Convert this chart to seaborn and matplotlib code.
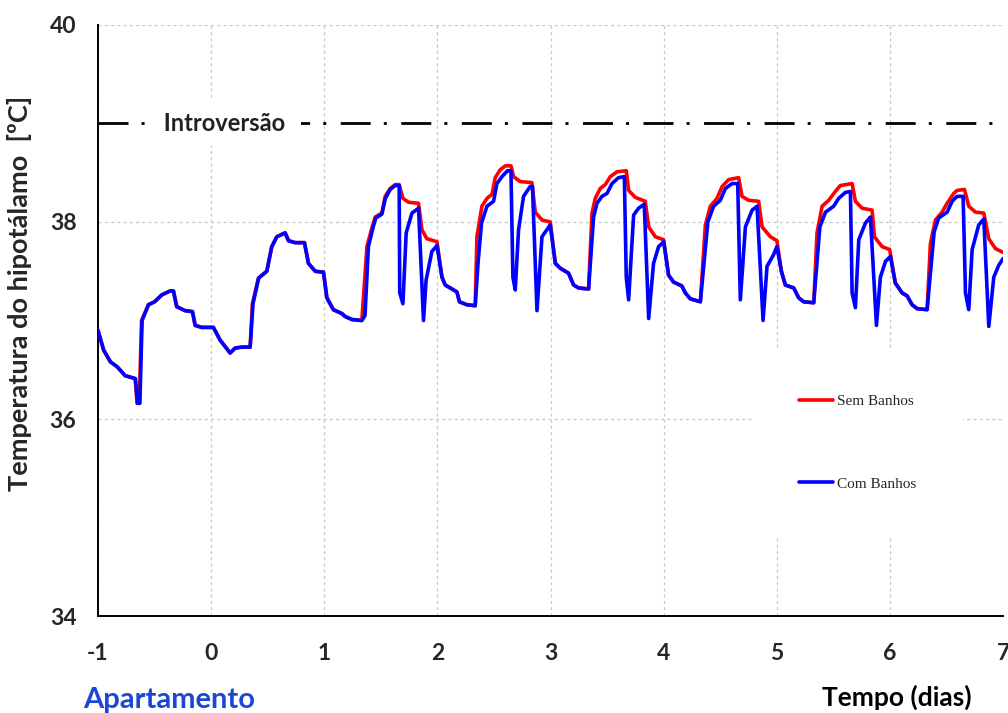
import numpy as np
import pandas as pd
import matplotlib
matplotlib.use("Agg")
import matplotlib.pyplot as plt
import seaborn as sns

# Hypothalamus temperature over time (days), without and with baths
t_sem = [-1.00, -0.95, -0.89, -0.83, -0.76, -0.67, -0.655, -0.635, -0.615, -0.554,
         -0.50, -0.436, -0.362, -0.333, -0.304, -0.23, -0.165, -0.141, -0.082, 0.02,
         0.08, 0.168, 0.212, 0.271, 0.345, 0.365, 0.418, 0.492, 0.536, 0.581,
         0.654, 0.684, 0.743, 0.825, 0.86, 0.92, 0.993, 1.023, 1.08, 1.156,
         1.185, 1.244, 1.332,
         1.377, 1.421, 1.45, 1.509, 1.538, 1.583, 1.627, 1.662, 1.695, 1.745,
         1.833, 1.863, 1.907, 1.996, 2.04, 2.069, 2.142, 2.172, 2.195, 2.26, 2.334,
         2.349, 2.393, 2.438, 2.482, 2.511, 2.555, 2.60, 2.65, 2.673, 2.732,
         2.835, 2.865, 2.924, 2.997, 3.042, 3.086, 3.159, 3.204, 3.248, 3.336,
         3.366, 3.395, 3.439, 3.484, 3.528, 3.587, 3.669, 3.69, 3.749, 3.837,
         3.867, 3.926, 3.999, 4.043, 4.087, 4.161, 4.191, 4.235, 4.324,
         4.368, 4.412, 4.471, 4.516, 4.574, 4.662, 4.692, 4.751, 4.839, 4.869,
         4.943, 5.0, 5.04, 5.075, 5.149, 5.193, 5.237, 5.326,
         5.355, 5.40, 5.458, 5.517, 5.561, 5.665, 5.694, 5.753, 5.842, 5.862,
         5.93, 5.997, 6.047, 6.107, 6.151, 6.195, 6.24, 6.328,
         6.357, 6.401, 6.46, 6.505, 6.563, 6.593, 6.658, 6.696, 6.755, 6.829,
         6.873, 6.932, 7.0]
temp_sem = [36.90, 36.70, 36.58, 36.53, 36.44, 36.41, 36.16, 36.16, 37.00, 37.16,
            37.19, 37.26, 37.30, 37.30, 37.14, 37.10, 37.09, 36.95, 36.93, 36.93,
            36.80, 36.67, 36.72, 36.73, 36.73, 37.17, 37.43, 37.50, 37.75, 37.85,
            37.89, 37.81, 37.79, 37.79, 37.58, 37.50, 37.49, 37.23, 37.11, 37.07,
            37.04, 37.01, 37.00,
            37.75, 37.94, 38.05, 38.09, 38.26, 38.34, 38.38, 38.38, 38.24, 38.20,
            38.19, 37.92, 37.83, 37.80, 37.44, 37.36, 37.31, 37.29, 37.19, 37.16, 37.15,
            37.85, 38.16, 38.24, 38.28, 38.45, 38.53, 38.57, 38.57, 38.46, 38.41,
            38.40, 38.10, 38.02, 38.00, 37.58, 37.53, 37.48, 37.36, 37.33, 37.32,
            38.09, 38.24, 38.34, 38.38, 38.46, 38.51, 38.52, 38.32, 38.25, 38.21,
            37.95, 37.85, 37.82, 37.46, 37.39, 37.35, 37.28, 37.22, 37.19,
            37.97, 38.16, 38.24, 38.36, 38.43, 38.45, 38.26, 38.22, 38.21, 37.95,
            37.85, 37.81, 37.50, 37.36, 37.33, 37.23, 37.19, 37.18,
            37.89, 38.16, 38.22, 38.31, 38.37, 38.39, 38.21, 38.14, 38.12, 37.85,
            37.75, 37.72, 37.38, 37.28, 37.25, 37.16, 37.12, 37.11,
            37.78, 38.02, 38.10, 38.19, 38.29, 38.32, 38.33, 38.16, 38.10, 38.09,
            37.83, 37.73, 37.69]

t_com = [-1.00, -0.95, -0.89, -0.83, -0.76, -0.67, -0.65, -0.63, -0.61, -0.554,
         -0.50, -0.436, -0.362, -0.333, -0.304, -0.23, -0.165, -0.141, -0.082, 0.02,
         0.08, 0.168, 0.212, 0.271, 0.345, 0.37, 0.42, 0.492, 0.536, 0.581,
         0.654, 0.684, 0.743, 0.825, 0.86, 0.92, 0.993, 1.023, 1.08, 1.156,
         1.185, 1.244, 1.332,
         1.36, 1.39, 1.43, 1.455, 1.509, 1.54, 1.583, 1.627, 1.662, 1.667, 1.695,
         1.724, 1.775, 1.833, 1.877, 1.90, 1.951, 1.996,
         2.04, 2.069, 2.142, 2.172, 2.195, 2.26, 2.334,
         2.36, 2.39, 2.438, 2.496, 2.526, 2.57, 2.62, 2.65, 2.667, 2.688,
         2.717, 2.761, 2.82, 2.84, 2.88, 2.924, 2.997,
         3.042, 3.086, 3.159, 3.204, 3.248, 3.336,
         3.38, 3.41, 3.454, 3.499, 3.543, 3.601, 3.652, 3.669, 3.69, 3.734,
         3.778, 3.828, 3.867, 3.91, 3.955, 4.0,
         4.043, 4.087, 4.161, 4.191, 4.235, 4.324,
         4.39, 4.441, 4.5, 4.545, 4.604, 4.654, 4.677, 4.722, 4.781, 4.825,
         4.878, 4.913, 4.972, 5.0,
         5.04, 5.075, 5.149, 5.193, 5.237, 5.326,
         5.38, 5.43, 5.502, 5.546, 5.606, 5.65, 5.665, 5.694, 5.724, 5.783,
         5.827, 5.88, 5.915, 5.96, 6.003,
         6.047, 6.107, 6.151, 6.195, 6.24, 6.328,
         6.39, 6.43, 6.505, 6.549, 6.593, 6.646, 6.667, 6.696, 6.726, 6.784,
         6.829, 6.873, 6.917, 6.961, 7.0]
temp_com = [36.90, 36.70, 36.58, 36.53, 36.44, 36.41, 36.16, 36.16, 37.00, 37.16,
            37.19, 37.26, 37.30, 37.30, 37.14, 37.10, 37.09, 36.95, 36.93, 36.93,
            36.80, 36.67, 36.72, 36.73, 36.73, 37.17, 37.43, 37.50, 37.75, 37.85,
            37.89, 37.81, 37.79, 37.79, 37.58, 37.50, 37.49, 37.23, 37.11, 37.07,
            37.04, 37.01, 37.00,
            37.05, 37.75, 37.94, 38.04, 38.08, 38.24, 38.33, 38.37, 38.37, 37.28, 37.17,
            37.89, 38.09, 38.14, 37.00, 37.41, 37.70, 37.76,
            37.44, 37.36, 37.31, 37.29, 37.19, 37.16, 37.15,
            37.60, 37.99, 38.16, 38.21, 38.39, 38.46, 38.52, 38.52, 37.44, 37.31,
            37.92, 38.26, 38.36, 38.36, 37.10, 37.85, 37.97,
            37.58, 37.53, 37.48, 37.36, 37.33, 37.32,
            38.05, 38.19, 38.26, 38.29, 38.39, 38.45, 38.46, 37.44, 37.21, 38.07,
            38.14, 38.18, 37.02, 37.58, 37.75, 37.80,
            37.46, 37.39, 37.35, 37.28, 37.22, 37.19,
            38.00, 38.16, 38.22, 38.34, 38.39, 38.39, 37.21, 37.95, 38.12, 38.16,
            37.00, 37.55, 37.67, 37.75,
            37.50, 37.36, 37.33, 37.23, 37.19, 37.18,
            37.95, 38.10, 38.16, 38.24, 38.30, 38.31, 37.28, 37.13, 37.82, 37.99,
            38.05, 36.95, 37.44, 37.60, 37.65,
            37.38, 37.28, 37.25, 37.16, 37.12, 37.11,
            37.90, 38.04, 38.10, 38.21, 38.26, 38.26, 37.28, 37.11, 37.72, 37.97,
            38.03, 36.94, 37.44, 37.56, 37.63]

limite_introversao = 39.0
x_ticks = [-1, 0, 1, 2, 3, 4, 5, 6, 7]
y_ticks = [34, 36, 38, 40]

sns.set_theme(style="white")
plt.rcParams["font.family"] = ["Lato", "DejaVu Sans"]
plt.rcParams["axes.unicode_minus"] = False

df_sem = pd.DataFrame({"t": t_sem, "T": temp_sem})
df_com = pd.DataFrame({"t": t_com, "T": temp_com})

fig = plt.figure(figsize=(10.08, 7.13), dpi=100)
ax = fig.add_axes([0.0972, 0.136, 0.898, 0.829])

sns.lineplot(data=df_sem, x="t", y="T", ax=ax, color="#ff0000", lw=2.6,
             label="Sem Banhos", sort=False, estimator=None, zorder=3,
             solid_joinstyle="round")
sns.lineplot(data=df_com, x="t", y="T", ax=ax, color="#0000ff", lw=2.6,
             label="Com Banhos", sort=False, estimator=None, zorder=4,
             solid_joinstyle="round")

# Introversion threshold
ax.axhline(limite_introversao, color="black", lw=2.0,
           linestyle=(0, (10.8, 4.7, 1.1, 5.2)), zorder=2)
ax.text(0.115, limite_introversao, " Introversão ", ha="center", va="center",
        fontsize=17, fontweight="bold", color="#222222", zorder=5,
        bbox=dict(boxstyle="square,pad=0.45", fc="white", ec="none"))

ax.set_xlim(-1, 7)
ax.set_ylim(34, 40)
ax.set_xticks(x_ticks)
ax.set_yticks(y_ticks)
ax.set_xticks(np.arange(-0.5, 7, 1), minor=True)
ax.set_yticks([35, 37, 39], minor=True)

ax.grid(True, which="major", color="#c8c8c8", lw=0.9, linestyle=(0, (2.5, 2.5)))
ax.set_axisbelow(True)
for side in ("top", "right"):
    ax.spines[side].set_visible(False)
for side in ("left", "bottom"):
    ax.spines[side].set_color("black")
    ax.spines[side].set_linewidth(1.4)

ax.tick_params(which="major", direction="inout", length=13, width=1.1,
               color="black", labelsize=16.5, pad=9)
ax.tick_params(which="minor", direction="in", length=5, width=1.0, color="black")
ax.tick_params(axis="x", which="major", pad=13)
for lab in ax.get_xticklabels() + ax.get_yticklabels():
    lab.set_fontweight("bold")

ax.set_xlabel("")
ax.set_ylabel("Temperatura do hipotálamo  [ºC]", fontsize=19.5, fontweight="bold")
ax.yaxis.set_label_coords(-0.073, 0.546)

fig.text(0.890, 0.022, "Tempo (dias)", ha="center", va="center",
         fontsize=19, fontweight="bold", color="black")
fig.text(0.168, 0.018, "Apartamento", ha="center", va="center",
         fontsize=21, fontweight="bold", color="#1a47d6")

leg = ax.legend(loc="upper left", bbox_to_anchor=(0.724, 0.452), borderaxespad=0,
                frameon=True, fancybox=False, framealpha=1.0, edgecolor="white",
                facecolor="white", borderpad=3.0, labelspacing=4.5,
                handlelength=2.2, handletextpad=0.3,
                prop={"family": "Liberation Serif", "size": 11})
leg.set_zorder(6)

fig.savefig("out.png", dpi=100)
